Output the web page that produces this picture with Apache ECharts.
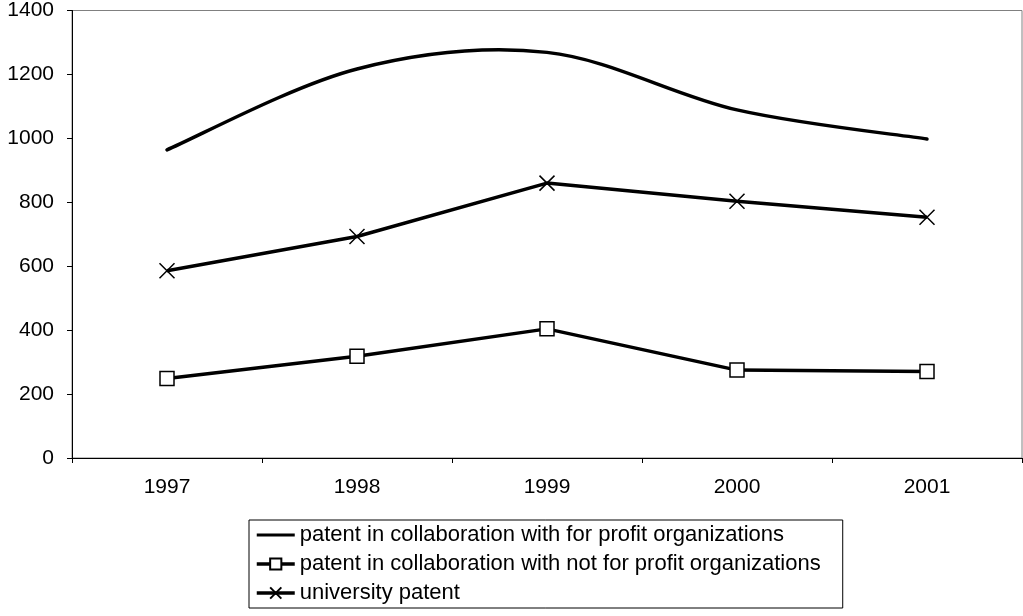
<!DOCTYPE html>
<html>
<head>
<meta charset="utf-8">
<script src="https://cdn.jsdelivr.net/npm/echarts@6/dist/echarts.min.js"></script>
<style>html,body{margin:0;padding:0;background:#fff}#c{width:1023px;height:616px}</style>
</head>
<body>
<div id="c"></div>
<script>
const categories = ['1997', '1998', '1999', '2000', '2001'];
const forProfit = [964, 1217, 1269, 1089, 998];
const notForProfit = [249, 318, 404, 275, 271];
const university = [586, 693, 860, 803, 753];
const seriesNames = [
  'patent in collaboration with for profit organizations',
  'patent in collaboration with not for profit organizations',
  'university patent'
];

const FONT = 'Liberation Sans, Arial, sans-serif';
const chart = echarts.init(document.getElementById('c'), null, {renderer: 'canvas'});
const crossPath = 'path://M0,0L10,10M10,0L0,10';
// line-only legend icon (tiny corner specks fix the 38x14 bounding box)
const lineIcon = 'path://M0,0L0.01,0L0,0.01Z M0,5.5L38,5.5L38,8.5L0,8.5Z M38,14L37.99,14L38,13.99Z';

// Excel-like smoothed curve through the points (Catmull-Rom / cubic Bezier), via the axis scales
function smoothRender(params, api) {
  if (params.dataIndex !== 0) return null;
  const pts = forProfit.map((v, i) => api.coord([i, v]));
  const n = pts.length;
  const P = i => pts[Math.max(0, Math.min(n - 1, i))];
  let d = 'M' + pts[0][0] + ',' + pts[0][1];
  for (let i = 0; i < n - 1; i++) {
    const p0 = P(i - 1), p1 = P(i), p2 = P(i + 1), p3 = P(i + 2);
    const c1 = [p1[0] + (p2[0] - p0[0]) / 6, p1[1] + (p2[1] - p0[1]) / 6];
    const c2 = [p2[0] - (p3[0] - p1[0]) / 6, p2[1] - (p3[1] - p1[1]) / 6];
    d += 'C' + c1[0] + ',' + c1[1] + ',' + c2[0] + ',' + c2[1] + ',' + p2[0] + ',' + p2[1];
  }
  return {
    type: 'path',
    shape: {pathData: d},
    style: {fill: 'none', stroke: '#000', lineWidth: 3.5, lineCap: 'round', lineJoin: 'round'}
  };
}

chart.setOption({
  backgroundColor: '#fff',
  animation: false,
  grid: {left: 72, right: 1, top: 10.5, bottom: 158, show: true, borderColor: '#808080', borderWidth: 1, backgroundColor: 'transparent'},
  xAxis: {
    type: 'category',
    data: categories,
    boundaryGap: true,
    axisLine: {lineStyle: {color: '#000', width: 1}},
    axisTick: {show: true, alignWithLabel: false, length: 5, inside: false, lineStyle: {color: '#000'}},
    axisLabel: {color: '#000', fontFamily: FONT, fontSize: 21, margin: 19},
    splitLine: {show: false}
  },
  yAxis: {
    type: 'value',
    min: 0, max: 1400, interval: 200,
    axisLine: {show: true, lineStyle: {color: '#000', width: 1}},
    axisTick: {show: true, length: 5, lineStyle: {color: '#000'}},
    axisLabel: {color: '#000', fontFamily: FONT, fontSize: 21, margin: 18, formatter: v => String(v)},
    splitLine: {show: false}
  },
  legend: {
    orient: 'vertical',
    left: 249, top: 520,
    padding: [4, 22, 4, 6],
    itemGap: 7,
    itemWidth: 38, itemHeight: 14,
    backgroundColor: '#fff',
    borderColor: '#000', borderWidth: 1, borderRadius: 0,
    textStyle: {color: '#000', fontFamily: FONT, fontSize: 22},
    lineStyle: {width: 3.5, color: '#000'},
    data: [
      {name: seriesNames[0], icon: lineIcon, itemStyle: {color: '#000'}},
      {name: seriesNames[1]},
      {name: seriesNames[2]}
    ]
  },
  series: [
    {
      name: seriesNames[0], type: 'custom',
      data: forProfit.map((v, i) => [i, v]),
      encode: {x: 0, y: 1},
      renderItem: smoothRender,
      itemStyle: {color: '#000'}
    },
    {
      name: seriesNames[1], type: 'line', data: notForProfit,
      symbol: 'rect', symbolSize: 14,
      lineStyle: {color: '#000', width: 3.5},
      itemStyle: {color: '#fff', borderColor: '#000', borderWidth: 1.5}
    },
    {
      name: seriesNames[2], type: 'line', data: university,
      symbol: crossPath, symbolSize: 15,
      lineStyle: {color: '#000', width: 3.5},
      itemStyle: {color: 'rgba(0,0,0,0)', borderColor: '#000', borderWidth: 1.5}
    }
  ]
});
</script>
</body>
</html>
